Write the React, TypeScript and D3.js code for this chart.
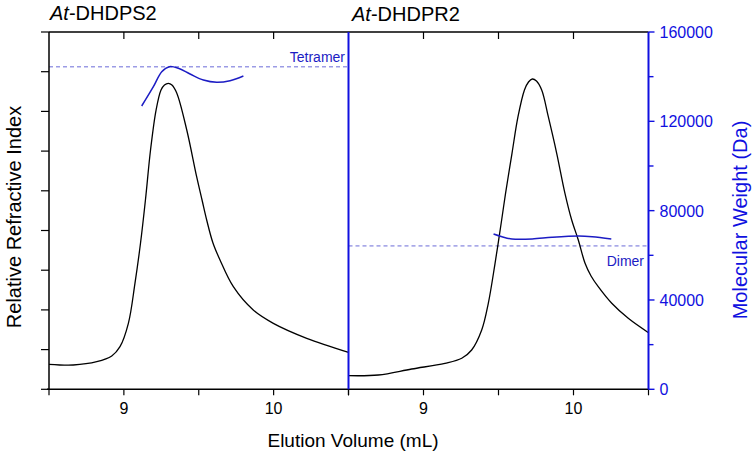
import React from "react";
import * as d3 from "d3";

// ---- data ----
const xTicks = [8.5, 9, 9.5, 10, 10.5];
const xTickLabels = ["9", "10"];
const riTicks = [0, 1, 2, 3, 4, 5, 6, 7, 8, 9];
const mwMajor = [0, 40000, 80000, 120000, 160000];
const mwMinor = [20000, 60000, 100000, 140000];

const tetramerMW = 144400;
const dimerMW = 64200;

// At-DHDPS2 refractive index [mL, RI]
const riLeft: [number, number][] = [
  [8.5, 0.63], [8.662, 0.612], [8.819, 0.695], [8.919, 0.839], [8.974, 1.073],
  [9.03, 1.662], [9.074, 2.67], [9.111, 3.678], [9.144, 4.768], [9.178, 6.028],
  [9.215, 7.035], [9.248, 7.539], [9.271, 7.665], [9.297, 7.708], [9.321, 7.665],
  [9.353, 7.463], [9.42, 6.531], [9.486, 5.355], [9.522, 4.768], [9.553, 4.265],
  [9.595, 3.685], [9.642, 3.257], [9.731, 2.584], [9.864, 1.997], [9.998, 1.662],
  [10.221, 1.285], [10.5, 0.932],
];
// At-DHDPS2 molecular weight [mL, Da]
const mwLeft: [number, number][] = [
  [9.119, 126860], [9.197, 135500], [9.253, 142220], [9.304, 144460], [9.364, 143740],
  [9.442, 141190], [9.531, 138500], [9.62, 137470], [9.709, 138190], [9.798, 140290],
];
// At-DHDPR2 refractive index
const riRight: [number, number][] = [
  [8.5, 0.343], [8.699, 0.36], [8.921, 0.511], [9.143, 0.655], [9.255, 0.781],
  [9.321, 0.99], [9.388, 1.494], [9.432, 2.166], [9.477, 3.174], [9.521, 4.264],
  [9.547, 4.937], [9.59, 5.945], [9.63, 6.866], [9.673, 7.539], [9.7, 7.741],
  [9.725, 7.816], [9.753, 7.766], [9.788, 7.539], [9.832, 6.866], [9.888, 5.945],
  [9.943, 4.937], [9.988, 4.264], [10.032, 3.761], [10.077, 3.174], [10.117, 2.854],
  [10.165, 2.584], [10.255, 2.166], [10.365, 1.788], [10.5, 1.426],
];
// At-DHDPR2 molecular weight
const mwRight: [number, number][] = [
  [9.467, 69540], [9.523, 68330], [9.59, 67300], [9.724, 67300], [9.857, 68070],
  [10.035, 68650], [10.125, 68330], [10.252, 67300],
];

const FONT = "'Liberation Sans', Arial, Helvetica, sans-serif";
const BLUE = "#1c1cc4";
const AXISBLUE = "#1010e0";
const DASH = "#6a6ad8";

export default function App() {
  const L = 49, M = 348.5, R = 648.5, T = 32, B = 389.3;
  const xL = d3.scaleLinear().domain([8.5, 10.5]).range([L, M]);
  const xR = d3.scaleLinear().domain([8.5, 10.5]).range([M, R]);
  const yRI = d3.scaleLinear().domain([0, 9]).range([B, T]);
  const yMW = d3.scaleLinear().domain([0, 160000]).range([B, T]);

  const curve = d3.curveCatmullRom.alpha(0.5);
  const lineL = d3.line<[number, number]>().x(d => xL(d[0])).y(d => yRI(d[1])).curve(curve);
  const lineR = d3.line<[number, number]>().x(d => xR(d[0])).y(d => yRI(d[1])).curve(curve);
  const mwL = d3.line<[number, number]>().x(d => xL(d[0])).y(d => yMW(d[1])).curve(curve);
  const mwR = d3.line<[number, number]>().x(d => xR(d[0])).y(d => yMW(d[1])).curve(curve);

  return (
    <svg width={753} height={455} style={{ position: "absolute", left: 0, top: 0, background: "#fff" }} fontFamily={FONT}>
      {/* titles */}
      <text x={50} y={20} fontSize={20} fill="#000"><tspan fontStyle="italic">At</tspan>-DHDPS2</text>
      <text x={352} y={21} fontSize={20} fill="#000"><tspan fontStyle="italic">At</tspan>-DHDPR2</text>

      {/* reference lines */}
      <line x1={L} x2={M} y1={yMW(tetramerMW)} y2={yMW(tetramerMW)} stroke={DASH} strokeWidth={1} strokeDasharray="4,3" />
      <line x1={M} x2={R} y1={yMW(dimerMW)} y2={yMW(dimerMW)} stroke={DASH} strokeWidth={1} strokeDasharray="4,3" />
      <text x={345} y={62} fontSize={14} fill={BLUE} textAnchor="end">Tetramer</text>
      <text x={644} y={266} fontSize={14} fill={BLUE} textAnchor="end">Dimer</text>

      {/* curves */}
      <path d={lineL(riLeft) || ""} fill="none" stroke="#000" strokeWidth={1.3} />
      <path d={lineR(riRight) || ""} fill="none" stroke="#000" strokeWidth={1.3} />
      <path d={mwL(mwLeft) || ""} fill="none" stroke={BLUE} strokeWidth={1.5} />
      <path d={mwR(mwRight) || ""} fill="none" stroke={BLUE} strokeWidth={1.5} />

      {/* top axis */}
      <line x1={L} x2={R} y1={T} y2={T} stroke="#000" strokeWidth={1.5} />
      {[xL, xR].map((sx, i) => [9, 9.5, 10].map(v => (
        <line key={`t${i}${v}`} x1={sx(v)} x2={sx(v)} y1={T} y2={T + 7} stroke="#000" strokeWidth={1.2} />
      )))}
      {/* bottom axis */}
      <line x1={L - 2} x2={R} y1={B} y2={B} stroke="#000" strokeWidth={1.5} />
      {[xL, xR].map((sx, i) => xTicks.map(v => (
        <line key={`b${i}${v}`} x1={sx(v)} x2={sx(v)} y1={B} y2={B + 6} stroke="#000" strokeWidth={1.2} />
      )))}
      {[xL, xR].map((sx, i) => xTickLabels.map(s => (
        <text key={`bl${i}${s}`} x={sx(+s)} y={414} fontSize={16} textAnchor="middle" fill="#000">{s}</text>
      )))}
      <text x={353} y={447} fontSize={19} textAnchor="middle" fill="#000">Elution Volume (mL)</text>

      {/* left axis */}
      <line x1={L} x2={L} y1={T} y2={B} stroke="#000" strokeWidth={1.5} />
      {riTicks.map(v => (
        <line key={`l${v}`} x1={L - 8} x2={L} y1={yRI(v)} y2={yRI(v)} stroke="#000" strokeWidth={1.2} />
      ))}
      <text transform={`translate(21,${217}) rotate(-90)`} fontSize={20} textAnchor="middle" fill="#000">Relative Refractive Index</text>

      {/* middle divider */}
      <line x1={M} x2={M} y1={T} y2={B} stroke={AXISBLUE} strokeWidth={2} />

      {/* right axis */}
      <line x1={R} x2={R} y1={T} y2={B} stroke={AXISBLUE} strokeWidth={2} />
      {mwMajor.map(v => (
        <line key={`rM${v}`} x1={R} x2={R + 6} y1={yMW(v)} y2={yMW(v)} stroke={AXISBLUE} strokeWidth={1.4} />
      ))}
      {mwMinor.map(v => (
        <line key={`rm${v}`} x1={R} x2={R + 5} y1={yMW(v)} y2={yMW(v)} stroke={AXISBLUE} strokeWidth={1.4} />
      ))}
      {mwMajor.map(v => (
        <text key={`rl${v}`} x={R + 11} y={yMW(v) + 6} fontSize={16} fill={AXISBLUE}>{String(v)}</text>
      ))}
      <text transform={`translate(747,${220}) rotate(-90)`} fontSize={20} textAnchor="middle" fill={AXISBLUE}>Molecular Weight (Da)</text>
    </svg>
  );
}
